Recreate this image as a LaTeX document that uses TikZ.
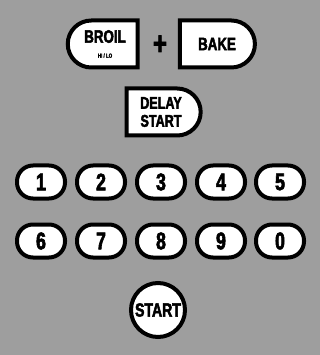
\documentclass[tikz,border=0pt]{standalone}
\usepackage{fontspec}
\setmainfont{Liberation Sans}[BoldFont={Liberation Sans Bold}, BoldFeatures={FakeBold=2.5}, FakeStretch=0.74]
\usetikzlibrary{shapes.misc}
\begin{document}
\begin{tikzpicture}[x=1pt, y=-1pt]
        \tikzstyle{key} = [draw, fill=white, line width=4pt, rounded corners=16pt, minimum width=48pt, minimum height=33pt, inner sep=0pt, font=\bfseries\fontsize{24}{24}\selectfont]
        \tikzstyle{leftkey} = [draw, fill=white, line width=4pt, rounded rectangle, rounded rectangle east arc=none, minimum height=47pt, inner sep=0pt, align=center]
        \tikzstyle{rightkey} = [draw, fill=white, line width=4pt, rounded rectangle, rounded rectangle west arc=none, minimum height=47pt, inner sep=0pt, align=center]
        \fill[black!38] (0, 0) rectangle (320, 355);
        \node[leftkey, minimum width=70pt, font=\bfseries\fontsize{18}{16}\selectfont] (BROIL) at (105, 44) {BROIL\\[-1pt]{\fontsize{6}{6}\selectfont HI / LO}};
        \node[font=\bfseries\fontsize{32}{32}\selectfont] (PLUS) at (160, 45) {+};
        \node[rightkey, minimum width=75pt, font=\bfseries\fontsize{18}{18}\selectfont] (BAKE) at (217, 44) {BAKE};
        \node[rightkey, minimum width=74pt, font=\bfseries\fontsize{17}{18}\selectfont] (DELAY) at (161, 112) {DELAY\\START};
        \node[key] (K1) at (41, 182) {1};
        \node[key] (K2) at (101, 182) {2};
        \node[key] (K3) at (161, 182) {3};
        \node[key] (K4) at (221, 182) {4};
        \node[key] (K5) at (280, 182) {5};
        \node[key] (K6) at (41, 241) {6};
        \node[key] (K7) at (101, 241) {7};
        \node[key] (K8) at (161, 241) {8};
        \node[key] (K9) at (221, 241) {9};
        \node[key] (K0) at (280, 241) {0};
        \node[draw, circle, fill=white, line width=4pt, minimum size=54pt, inner sep=0pt, font=\bfseries\fontsize{19}{19}\selectfont] (START) at (158, 310) {START};
      \end{tikzpicture}
\end{document}
